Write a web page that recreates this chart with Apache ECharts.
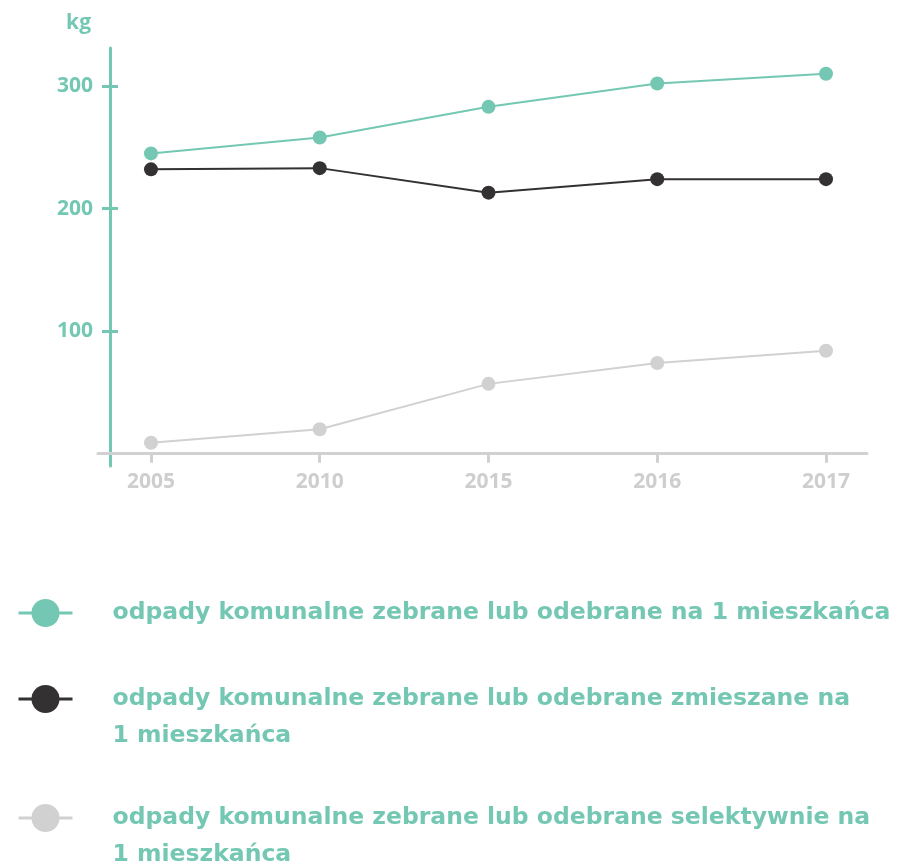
<!DOCTYPE html>
<html>
<head>
<meta charset="utf-8">
<script src="https://cdn.jsdelivr.net/npm/echarts@6/dist/echarts.min.js"></script>
<style>
  html, body { margin: 0; padding: 0; background: #ffffff; }
  #chart { width: 897px; height: 863px; }
</style>
</head>
<body>
<div id="chart"></div>
<script>
// Years on the horizontal axis
const years = ['2005', '2010', '2015', '2016', '2017'];
// kg per inhabitant
const totalPerCapita = [245, 258, 283, 302, 310];
const mixedPerCapita = [232, 233, 213, 224, 224];
const selectivePerCapita = [9, 20, 57, 74, 84];
// Y axis tick labels
const yTicks = [100, 200, 300];

const seriesNames = [
  'odpady komunalne zebrane lub odebrane na 1 mieszkańca',
  'odpady komunalne zebrane lub odebrane zmieszane na 1 mieszkańca',
  'odpady komunalne zebrane lub odebrane selektywnie na 1 mieszkańca'
];

const GREEN = '#74c8b3';
const DARK = '#333131';
const GREY = '#d2d1d2';
const AXIS_FONT = '"Open Sans", sans-serif';
const LEGEND_FONT = '"DejaVu Sans", sans-serif';

const xIdx = years.map((_, i) => i);
const toPairs = vals => vals.map((v, i) => [i, v]);

const chart = echarts.init(document.getElementById('chart'));

function lineSeries(name, vals, color) {
  return {
    name: name,
    type: 'line',
    data: toPairs(vals),
    symbol: 'circle',
    symbolSize: 14,
    color: color,
    lineStyle: { width: 2, color: color },
    itemStyle: { color: color },
    emphasis: { disabled: true },
    animation: false
  };
}

const legendText = {
  color: GREEN,
  fontFamily: LEGEND_FONT,
  fontWeight: 'bold',
  fontSize: 23.5,
  lineHeight: 37,
  padding: [0, 0, 0, 35]
};

// One legend block per series; wrapped names keep the marker on the first line
function legendBlock(name, top, twoLines) {
  return {
    show: true,
    data: [name],
    orient: 'vertical',
    left: 17,
    top: top,
    padding: 0,
    itemWidth: 54,
    itemHeight: 35,
    selectedMode: false,
    lineStyle: { width: 3 },
    formatter: function (n) {
      if (!twoLines) return '{a|' + n + '}';
      const cut = n.lastIndexOf(' 1 ');
      return '{s| }\n{a|' + n.slice(0, cut) + '}\n{a|' + n.slice(cut + 1) + '}';
    },
    textStyle: {
      color: GREEN,
      fontFamily: LEGEND_FONT,
      fontWeight: 'bold',
      fontSize: 23.5,
      lineHeight: 37,
      rich: {
        a: legendText,
        s: { fontSize: 10, lineHeight: 37 }
      }
    }
  };
}

const xBase = {
  type: 'value',
  min: -0.314,
  max: 4.243,
  splitLine: { show: false }
};

const yBase = {
  type: 'value',
  min: -10,
  max: 331,
  position: 'left',
  offset: -12,
  splitLine: { show: false }
};

chart.setOption({
  backgroundColor: '#ffffff',
  animation: false,
  grid: { left: 98, right: 30, top: 48, bottom: 397, containLabel: false },
  legend: [
    legendBlock(seriesNames[0], 594.5, false),
    legendBlock(seriesNames[1], 643.5, true),
    legendBlock(seriesNames[2], 762.5, true)
  ],
  xAxis: [
    Object.assign({}, xBase, {
      axisLine: { show: true, onZero: true, lineStyle: { color: GREY, width: 3 } },
      axisTick: { show: true, length: 9, inside: false, customValues: xIdx, lineStyle: { color: GREY, width: 3 } },
      axisLabel: {
        show: true,
        customValues: xIdx,
        margin: 6,
        color: '#cfcecf',
        fontFamily: AXIS_FONT,
        fontWeight: 'bold',
        fontSize: 21,
        formatter: v => years[Math.round(v)]
      }
    }),
    Object.assign({}, xBase, {
      axisLine: { show: false, onZero: true },
      axisTick: { show: true, length: 9, inside: true, customValues: xIdx, lineStyle: { color: GREY, width: 3 } },
      axisLabel: { show: false }
    })
  ],
  yAxis: [
    Object.assign({}, yBase, {
      name: 'kg',
      nameLocation: 'end',
      nameGap: 14,
      nameTextStyle: {
        color: GREEN,
        fontFamily: AXIS_FONT,
        fontWeight: 'bold',
        fontSize: 21,
        align: 'right',
        padding: [0, 19, 0, 0]
      },
      axisLine: { show: true, onZero: false, lineStyle: { color: GREEN, width: 3 } },
      axisTick: { show: true, length: 8, inside: false, customValues: yTicks, lineStyle: { color: GREEN, width: 3 } },
      axisLabel: {
        show: true,
        customValues: yTicks,
        margin: 17,
        color: GREEN,
        fontFamily: AXIS_FONT,
        fontWeight: 'bold',
        fontSize: 21
      }
    }),
    Object.assign({}, yBase, {
      axisLine: { show: false, onZero: false },
      axisTick: { show: true, length: 8, inside: true, customValues: yTicks, lineStyle: { color: GREEN, width: 3 } },
      axisLabel: { show: false }
    })
  ],
  series: [
    lineSeries(seriesNames[0], totalPerCapita, GREEN),
    lineSeries(seriesNames[1], mixedPerCapita, DARK),
    lineSeries(seriesNames[2], selectivePerCapita, GREY)
  ]
});
</script>
</body>
</html>
